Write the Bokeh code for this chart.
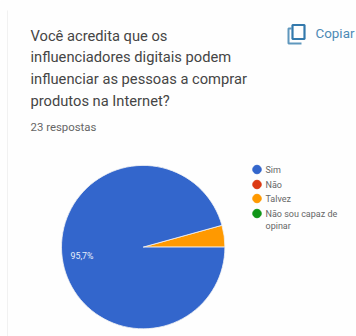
import math
from bokeh.core.properties import value
from bokeh.embed import file_html
from bokeh.models import Range1d
from bokeh.plotting import figure
from bokeh.resources import INLINE

# Survey answers, in the order of the legend
categories = ["Sim", "Não", "Talvez", "Não sou capaz de opinar"]
shares = [95.7, 0.0, 4.3, 0.0]
colors = ["#3366cc", "#dc3912", "#ff9900", "#109618"]
pie_label = "95,7%"

title_lines = [
    "Você acredita que os",
    "influenciadores digitais podem",
    "influenciar as pessoas a comprar",
    "produtos na Internet?",
]
responses = "23 respostas"
copy_label = "Copiar"

W, H = 356, 336
FONT = value("Roboto")

p = figure(width=W, height=H, output_backend="svg", toolbar_location=None,
           x_range=Range1d(0, W), y_range=Range1d(H, 0),
           min_border=0, outline_line_color=None)
p.axis.visible = False
p.grid.visible = False
p.background_fill_color = "#fefefe"
p.border_fill_color = "#fefefe"

# Faint card edge on the left
p.segment([7], [10], [7], [H], line_color="#f1f1f1", line_width=1)

# Question heading and response count
for i, line in enumerate(title_lines):
    p.text([30], [35 + i * 21.7], text=[line], text_font=FONT, text_font_size="14.7px",
           text_color="#454545", text_baseline="middle")
p.text([30], [126.5], text=[responses], text_font=FONT, text_font_size="11.4px",
       text_color="#666666", text_baseline="middle")

# Copy button: two overlapping page outlines and its label
p.line([291, 288, 288, 301], [28, 28, 43, 43], line_color="#5f97bd", line_width=2)
p.quad(left=[292], right=[304], top=[24.5], bottom=[38.5], fill_color=None,
       line_color="#3379ac", line_width=2.2)
p.text([315], [33], text=[copy_label], text_font=FONT, text_font_size="13.4px",
       text_color="#4d8ab5", text_baseline="middle")

# Pie, running from the east so the small slice sits just above that direction
cx, cy, radius = 142.7, 246.6, 81.7
order = [2, 3, 0, 1]
start = 0.0
for idx in order:
    sweep = shares[idx] / sum(shares) * 2 * math.pi
    if sweep > 0:
        p.wedge([cx], [cy], radius=radius, start_angle=start, end_angle=start + sweep,
                direction="anticlock", fill_color=colors[idx],
                line_color="#f4f4f4", line_width=0.8)
    start += sweep
p.text([70], [255], text=[pie_label], text_font=FONT, text_font_size="8.8px",
       text_color="#e8eefa", text_baseline="middle")

# Legend
legend_x, legend_y = [256.5] * 4, [169, 184, 198, 213]
p.scatter(legend_x, legend_y, size=8.5, color=colors)
p.text([265] * 4, legend_y, text=["Sim", "Não", "Talvez", "Não sou capaz de"],
       text_font=FONT, text_font_size="9px", text_color="#666666", text_baseline="middle")
p.text([265], [225], text=["opinar"], text_font=FONT, text_font_size="9px",
       text_color="#666666", text_baseline="middle")

open("out.html", "w").write(file_html(p, INLINE))
